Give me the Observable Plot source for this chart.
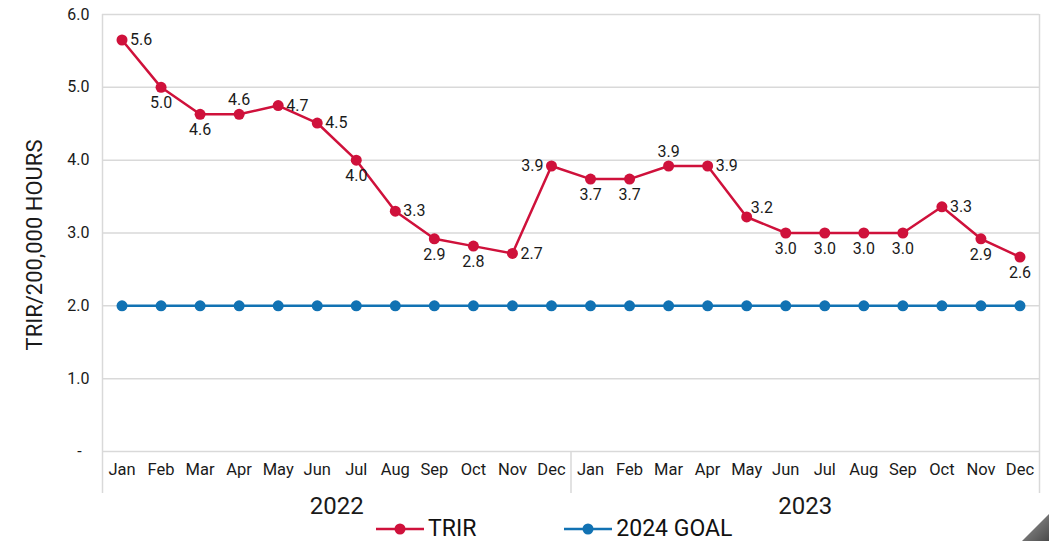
<!DOCTYPE html>
<html>
<head>
<meta charset="utf-8">
<script src="https://cdn.jsdelivr.net/npm/d3@7"></script>
<script src="https://cdn.jsdelivr.net/npm/@observablehq/plot@0.6"></script>
<style>
  body { margin: 0; background: #fff; font-family: Roboto, "DejaVu Sans", sans-serif; }
  #wrap { position: relative; width: 1049px; height: 541px; overflow: hidden; background: #fff; }
  #legend { position: absolute; left: 376px; top: 517px; height: 24px; display: flex; align-items: center; font-size: 23px; color: #111; line-height: 24px; }
  .item { display: flex; align-items: center; }
  .item svg { display: block; }
  .item span { margin-left: 4px; }
  #corner { position: absolute; right: 0; bottom: 0; width: 27px; height: 27px;
            background: linear-gradient(135deg, #9a9a9a, #4a4a4a);
            clip-path: polygon(100% 0, 100% 100%, 0 100%); }
</style>
</head>
<body>
<div id="wrap">
  <div id="chart"></div>
  <div id="legend"></div>
  <div id="corner"></div>
</div>
<script>
// ---- data ----
const years = ["2022", "2023"];
const months = ["Jan","Feb","Mar","Apr","May","Jun","Jul","Aug","Sep","Oct","Nov","Dec"];
const trir = [5.65, 5.0, 4.63, 4.63, 4.75, 4.51, 4.0, 3.3, 2.92, 2.82, 2.72, 3.92,
              3.74, 3.74, 3.92, 3.92, 3.22, 3.0, 3.0, 3.0, 3.0, 3.36, 2.92, 2.67];
const goal = [2.0, 2.0, 2.0, 2.0, 2.0, 2.0, 2.0, 2.0, 2.0, 2.0, 2.0, 2.0,
              2.0, 2.0, 2.0, 2.0, 2.0, 2.0, 2.0, 2.0, 2.0, 2.0, 2.0, 2.0];
// where each TRIR value label sits relative to its point
const labelPos = ["right","below","below","above","right","right","below","right","below","below","right","left",
                  "below","below","above","right","rightUp","below","below","below","below","right","below","below"];
const yTicks = [0, 1, 2, 3, 4, 5, 6];
const yTickLabels = ["-\u00a0\u00a0", "1.0", "2.0", "3.0", "4.0", "5.0", "6.0"];
const seriesNames = ["TRIR", "2024 GOAL"];
const yTitle = "TRIR/200,000 HOURS";

const RED = "#cf113b", BLUE = "#1172b3", GRID = "#d9d9d9", INK = "#1a1a1a";

const rows = [];
years.forEach((yr, k) => months.forEach((m, j) => {
  const i = k * months.length + j;
  rows.push({i, year: yr, month: m, trir: trir[i], goal: goal[i], pos: labelPos[i]});
}));
const fmt = v => (Math.floor(v * 10 + 1e-9) / 10).toFixed(1);
const n = rows.length;
const groupCenters = years.map((yr, k) => ({yr, c: k * 12 + 5.5}));
const innerBounds = years.slice(1).map((yr, k) => (k + 1) * 12 - 0.5);

const lbl = (pos, opts) => Plot.text(rows.filter(d => d.pos === pos),
  {x: "i", y: "trir", text: d => fmt(d.trir), fill: INK, fontSize: 16, ...opts});

const chart = Plot.plot({
  width: 1049,
  height: 514,
  marginLeft: 102,
  marginRight: 10,
  marginTop: 14,
  marginBottom: 63,
  style: {fontFamily: "Roboto, 'DejaVu Sans', sans-serif", fontSize: "16px", color: INK, background: "transparent", overflow: "visible"},
  x: {type: "linear", domain: [-0.5, n - 0.5], axis: null},
  y: {domain: [0, 6], axis: null},
  marks: [
    Plot.gridY(yTicks, {stroke: GRID, strokeOpacity: 1, strokeWidth: 1.5}),
    Plot.axisY(yTicks, {tickSize: 0, tickPadding: 13, fontSize: 16, fill: INK,
      tickFormat: d => yTickLabels[yTicks.indexOf(d)]}),
    // frame sides and category box
    Plot.ruleX([-0.5, n - 0.5], {stroke: GRID, strokeWidth: 1.5, insetBottom: -42}),
    Plot.ruleX(innerBounds, {y1: 0, y2: 0, stroke: GRID, strokeWidth: 1.5, insetBottom: -42}),
    // category labels
    Plot.text(rows, {x: "i", text: "month", frameAnchor: "bottom", dy: 23, fontSize: 16.5, fill: INK}),
    Plot.text(groupCenters, {x: "c", text: "yr", frameAnchor: "bottom", dy: 62, fontSize: 24, fill: INK}),
    // y title
    Plot.text([yTitle], {frameAnchor: "left", textAnchor: "middle", rotate: -90, dx: -68, dy: 12, fontSize: 22, fill: INK}),
    // series
    Plot.line(rows, {x: "i", y: "goal", stroke: BLUE, strokeWidth: 2.5}),
    Plot.dot(rows, {x: "i", y: "goal", r: 5.5, fill: BLUE}),
    Plot.line(rows, {x: "i", y: "trir", stroke: RED, strokeWidth: 2.5}),
    Plot.dot(rows, {x: "i", y: "trir", r: 5.5, fill: RED}),
    // value labels
    lbl("right", {dx: 8, textAnchor: "start"}),
    lbl("rightUp", {dx: 4, dy: -9, textAnchor: "start"}),
    lbl("left", {dx: -8, textAnchor: "end"}),
    lbl("below", {dy: 16}),
    lbl("above", {dy: -14})
  ]
});
document.getElementById("chart").appendChild(chart);

// legend
const legend = document.getElementById("legend");
const colors = [RED, BLUE];
seriesNames.forEach((name, k) => {
  const item = document.createElement("div");
  item.className = "item";
  if (k > 0) item.style.marginLeft = "88px";
  const sw = d3.create("svg").attr("width", 48).attr("height", 20);
  sw.append("line").attr("x1", 0).attr("x2", 48).attr("y1", 10).attr("y2", 10)
    .attr("stroke", colors[k]).attr("stroke-width", 2.5);
  sw.append("circle").attr("cx", 24).attr("cy", 10).attr("r", 5.5).attr("fill", colors[k]);
  item.appendChild(sw.node());
  const t = document.createElement("span");
  t.textContent = name;
  item.appendChild(t);
  legend.appendChild(item);
});
</script>
</body>
</html>
